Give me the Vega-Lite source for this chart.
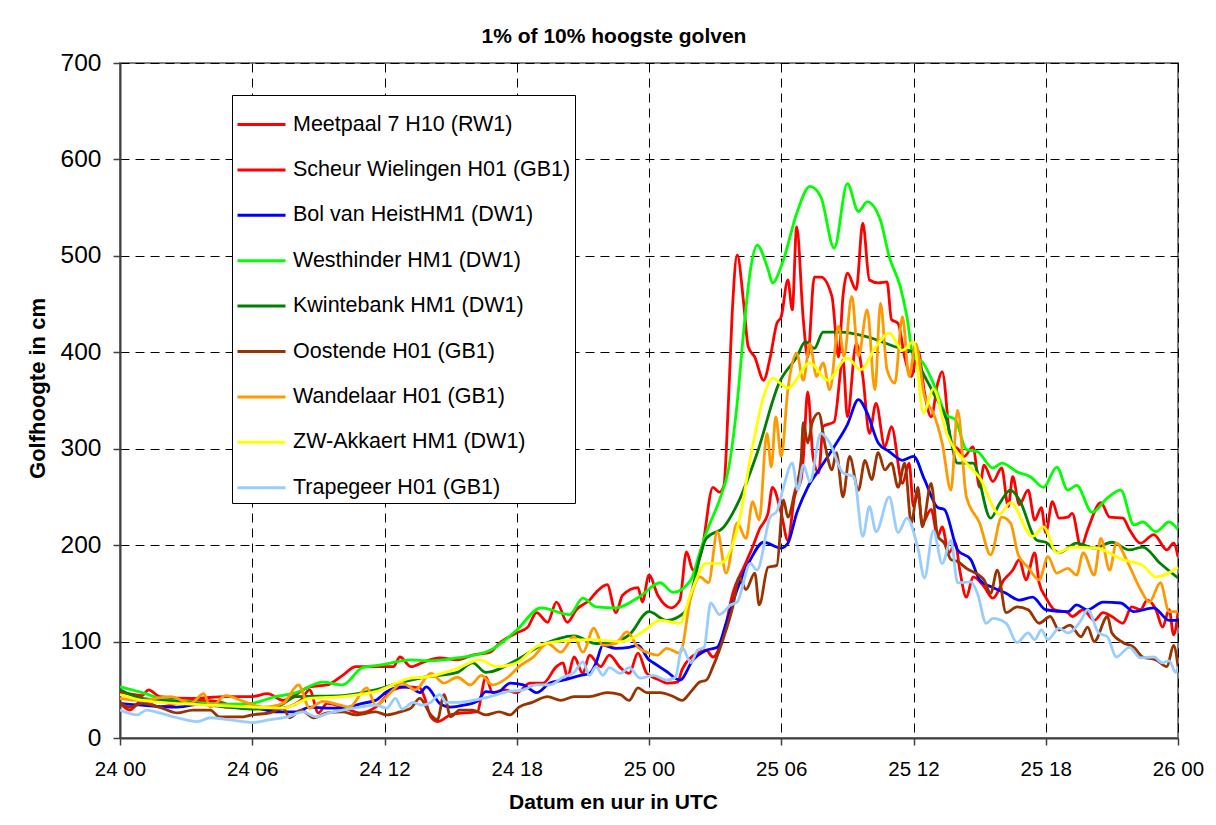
{
  "$schema": "https://vega.github.io/schema/vega-lite/v6.json",
  "width": 1058,
  "height": 675,
  "autosize": {"type": "none"},
  "padding": {"left": 120, "top": 63, "right": 38, "bottom": 87},
  "background": "white",
  "title": {"text": "1% of 10% hoogste golven", "font": "Liberation Sans", "fontSize": 21, "fontWeight": "bold", "color": "black", "anchor": "middle", "dx": -35, "offset": 3},
  "data": {"values": [
    {"s":"Meetpaal 7 H10 (RW1)","t":0,"v":48},{"s":"Meetpaal 7 H10 (RW1)","t":1,"v":44},{"s":"Meetpaal 7 H10 (RW1)","t":1.3,"v":50},{"s":"Meetpaal 7 H10 (RW1)","t":1.8,"v":43},{"s":"Meetpaal 7 H10 (RW1)","t":3.3,"v":41},{"s":"Meetpaal 7 H10 (RW1)","t":4.8,"v":43},{"s":"Meetpaal 7 H10 (RW1)","t":6,"v":43},{"s":"Meetpaal 7 H10 (RW1)","t":6.7,"v":46},{"s":"Meetpaal 7 H10 (RW1)","t":7.4,"v":39},{"s":"Meetpaal 7 H10 (RW1)","t":8.6,"v":53},{"s":"Meetpaal 7 H10 (RW1)","t":9.4,"v":55},{"s":"Meetpaal 7 H10 (RW1)","t":10.1,"v":65},{"s":"Meetpaal 7 H10 (RW1)","t":10.7,"v":74},{"s":"Meetpaal 7 H10 (RW1)","t":11.6,"v":74},{"s":"Meetpaal 7 H10 (RW1)","t":12.4,"v":74},{"s":"Meetpaal 7 H10 (RW1)","t":12.7,"v":84},{"s":"Meetpaal 7 H10 (RW1)","t":13.2,"v":74},{"s":"Meetpaal 7 H10 (RW1)","t":13.8,"v":79},{"s":"Meetpaal 7 H10 (RW1)","t":14.5,"v":83},{"s":"Meetpaal 7 H10 (RW1)","t":15.3,"v":81},{"s":"Meetpaal 7 H10 (RW1)","t":16,"v":86},{"s":"Meetpaal 7 H10 (RW1)","t":16.8,"v":89},{"s":"Meetpaal 7 H10 (RW1)","t":17.2,"v":98},{"s":"Meetpaal 7 H10 (RW1)","t":18,"v":109},{"s":"Meetpaal 7 H10 (RW1)","t":18.5,"v":115},{"s":"Meetpaal 7 H10 (RW1)","t":18.9,"v":130},{"s":"Meetpaal 7 H10 (RW1)","t":19.4,"v":120},{"s":"Meetpaal 7 H10 (RW1)","t":19.8,"v":141},{"s":"Meetpaal 7 H10 (RW1)","t":20.3,"v":120},{"s":"Meetpaal 7 H10 (RW1)","t":20.7,"v":133},{"s":"Meetpaal 7 H10 (RW1)","t":21.3,"v":143},{"s":"Meetpaal 7 H10 (RW1)","t":21.6,"v":151},{"s":"Meetpaal 7 H10 (RW1)","t":22.1,"v":159},{"s":"Meetpaal 7 H10 (RW1)","t":22.5,"v":130},{"s":"Meetpaal 7 H10 (RW1)","t":22.8,"v":148},{"s":"Meetpaal 7 H10 (RW1)","t":23.5,"v":156},{"s":"Meetpaal 7 H10 (RW1)","t":23.7,"v":141},{"s":"Meetpaal 7 H10 (RW1)","t":24,"v":169},{"s":"Meetpaal 7 H10 (RW1)","t":24.4,"v":148},{"s":"Meetpaal 7 H10 (RW1)","t":25,"v":135},{"s":"Meetpaal 7 H10 (RW1)","t":25.4,"v":143},{"s":"Meetpaal 7 H10 (RW1)","t":25.7,"v":193},{"s":"Meetpaal 7 H10 (RW1)","t":26,"v":174},{"s":"Meetpaal 7 H10 (RW1)","t":26.4,"v":195},{"s":"Meetpaal 7 H10 (RW1)","t":26.9,"v":260},{"s":"Meetpaal 7 H10 (RW1)","t":27.2,"v":255},{"s":"Meetpaal 7 H10 (RW1)","t":27.4,"v":262},{"s":"Meetpaal 7 H10 (RW1)","t":27.6,"v":347},{"s":"Meetpaal 7 H10 (RW1)","t":27.8,"v":451},{"s":"Meetpaal 7 H10 (RW1)","t":28,"v":501},{"s":"Meetpaal 7 H10 (RW1)","t":28.3,"v":450},{"s":"Meetpaal 7 H10 (RW1)","t":28.5,"v":406},{"s":"Meetpaal 7 H10 (RW1)","t":28.8,"v":395},{"s":"Meetpaal 7 H10 (RW1)","t":29.2,"v":371},{"s":"Meetpaal 7 H10 (RW1)","t":29.5,"v":395},{"s":"Meetpaal 7 H10 (RW1)","t":29.8,"v":430},{"s":"Meetpaal 7 H10 (RW1)","t":30,"v":437},{"s":"Meetpaal 7 H10 (RW1)","t":30.3,"v":475},{"s":"Meetpaal 7 H10 (RW1)","t":30.5,"v":444},{"s":"Meetpaal 7 H10 (RW1)","t":30.7,"v":530},{"s":"Meetpaal 7 H10 (RW1)","t":31,"v":434},{"s":"Meetpaal 7 H10 (RW1)","t":31.2,"v":395},{"s":"Meetpaal 7 H10 (RW1)","t":31.5,"v":478},{"s":"Meetpaal 7 H10 (RW1)","t":31.8,"v":478},{"s":"Meetpaal 7 H10 (RW1)","t":32.3,"v":458},{"s":"Meetpaal 7 H10 (RW1)","t":32.6,"v":395},{"s":"Meetpaal 7 H10 (RW1)","t":32.8,"v":458},{"s":"Meetpaal 7 H10 (RW1)","t":33,"v":482},{"s":"Meetpaal 7 H10 (RW1)","t":33.4,"v":465},{"s":"Meetpaal 7 H10 (RW1)","t":33.7,"v":534},{"s":"Meetpaal 7 H10 (RW1)","t":34,"v":475},{"s":"Meetpaal 7 H10 (RW1)","t":34.4,"v":472},{"s":"Meetpaal 7 H10 (RW1)","t":34.8,"v":473},{"s":"Meetpaal 7 H10 (RW1)","t":35,"v":434},{"s":"Meetpaal 7 H10 (RW1)","t":35.3,"v":430},{"s":"Meetpaal 7 H10 (RW1)","t":35.6,"v":395},{"s":"Meetpaal 7 H10 (RW1)","t":35.9,"v":375},{"s":"Meetpaal 7 H10 (RW1)","t":36.2,"v":402},{"s":"Meetpaal 7 H10 (RW1)","t":36.5,"v":358},{"s":"Meetpaal 7 H10 (RW1)","t":36.8,"v":333},{"s":"Meetpaal 7 H10 (RW1)","t":37.1,"v":368},{"s":"Meetpaal 7 H10 (RW1)","t":37.3,"v":380},{"s":"Meetpaal 7 H10 (RW1)","t":37.7,"v":306},{"s":"Meetpaal 7 H10 (RW1)","t":38,"v":300},{"s":"Meetpaal 7 H10 (RW1)","t":38.3,"v":292},{"s":"Meetpaal 7 H10 (RW1)","t":38.7,"v":302},{"s":"Meetpaal 7 H10 (RW1)","t":39,"v":260},{"s":"Meetpaal 7 H10 (RW1)","t":39.2,"v":283},{"s":"Meetpaal 7 H10 (RW1)","t":39.6,"v":266},{"s":"Meetpaal 7 H10 (RW1)","t":40,"v":280},{"s":"Meetpaal 7 H10 (RW1)","t":40.3,"v":240},{"s":"Meetpaal 7 H10 (RW1)","t":40.5,"v":271},{"s":"Meetpaal 7 H10 (RW1)","t":40.8,"v":242},{"s":"Meetpaal 7 H10 (RW1)","t":41.2,"v":257},{"s":"Meetpaal 7 H10 (RW1)","t":41.5,"v":226},{"s":"Meetpaal 7 H10 (RW1)","t":41.8,"v":239},{"s":"Meetpaal 7 H10 (RW1)","t":42,"v":213},{"s":"Meetpaal 7 H10 (RW1)","t":42.3,"v":245},{"s":"Meetpaal 7 H10 (RW1)","t":42.6,"v":228},{"s":"Meetpaal 7 H10 (RW1)","t":43,"v":229},{"s":"Meetpaal 7 H10 (RW1)","t":43.2,"v":233},{"s":"Meetpaal 7 H10 (RW1)","t":43.6,"v":198},{"s":"Meetpaal 7 H10 (RW1)","t":43.9,"v":216},{"s":"Meetpaal 7 H10 (RW1)","t":44.5,"v":244},{"s":"Meetpaal 7 H10 (RW1)","t":44.9,"v":229},{"s":"Meetpaal 7 H10 (RW1)","t":45.5,"v":228},{"s":"Meetpaal 7 H10 (RW1)","t":45.8,"v":216},{"s":"Meetpaal 7 H10 (RW1)","t":46.3,"v":202},{"s":"Meetpaal 7 H10 (RW1)","t":46.9,"v":211},{"s":"Meetpaal 7 H10 (RW1)","t":47.5,"v":195},{"s":"Meetpaal 7 H10 (RW1)","t":47.8,"v":202},{"s":"Meetpaal 7 H10 (RW1)","t":48,"v":188},

    {"s":"Scheur Wielingen H01 (GB1)","t":0,"v":36},{"s":"Scheur Wielingen H01 (GB1)","t":0.45,"v":29},{"s":"Scheur Wielingen H01 (GB1)","t":1,"v":39},{"s":"Scheur Wielingen H01 (GB1)","t":1.8,"v":32},{"s":"Scheur Wielingen H01 (GB1)","t":2.6,"v":36},{"s":"Scheur Wielingen H01 (GB1)","t":3.3,"v":39},{"s":"Scheur Wielingen H01 (GB1)","t":4.4,"v":38},{"s":"Scheur Wielingen H01 (GB1)","t":5.3,"v":32},{"s":"Scheur Wielingen H01 (GB1)","t":6,"v":31},{"s":"Scheur Wielingen H01 (GB1)","t":6.9,"v":29},{"s":"Scheur Wielingen H01 (GB1)","t":7.6,"v":32},{"s":"Scheur Wielingen H01 (GB1)","t":8.2,"v":39},{"s":"Scheur Wielingen H01 (GB1)","t":8.6,"v":50},{"s":"Scheur Wielingen H01 (GB1)","t":9,"v":26},{"s":"Scheur Wielingen H01 (GB1)","t":9.4,"v":36},{"s":"Scheur Wielingen H01 (GB1)","t":10.1,"v":32},{"s":"Scheur Wielingen H01 (GB1)","t":10.9,"v":26},{"s":"Scheur Wielingen H01 (GB1)","t":11.6,"v":32},{"s":"Scheur Wielingen H01 (GB1)","t":12.4,"v":50},{"s":"Scheur Wielingen H01 (GB1)","t":13,"v":53},{"s":"Scheur Wielingen H01 (GB1)","t":13.6,"v":52},{"s":"Scheur Wielingen H01 (GB1)","t":13.8,"v":43},{"s":"Scheur Wielingen H01 (GB1)","t":14.1,"v":22},{"s":"Scheur Wielingen H01 (GB1)","t":14.4,"v":17},{"s":"Scheur Wielingen H01 (GB1)","t":15,"v":24},{"s":"Scheur Wielingen H01 (GB1)","t":15.6,"v":26},{"s":"Scheur Wielingen H01 (GB1)","t":16.2,"v":27},{"s":"Scheur Wielingen H01 (GB1)","t":16.6,"v":63},{"s":"Scheur Wielingen H01 (GB1)","t":16.9,"v":47},{"s":"Scheur Wielingen H01 (GB1)","t":17.4,"v":50},{"s":"Scheur Wielingen H01 (GB1)","t":18,"v":47},{"s":"Scheur Wielingen H01 (GB1)","t":18.6,"v":57},{"s":"Scheur Wielingen H01 (GB1)","t":19.2,"v":57},{"s":"Scheur Wielingen H01 (GB1)","t":19.8,"v":74},{"s":"Scheur Wielingen H01 (GB1)","t":20.1,"v":78},{"s":"Scheur Wielingen H01 (GB1)","t":20.3,"v":63},{"s":"Scheur Wielingen H01 (GB1)","t":20.6,"v":84},{"s":"Scheur Wielingen H01 (GB1)","t":21,"v":67},{"s":"Scheur Wielingen H01 (GB1)","t":21.3,"v":86},{"s":"Scheur Wielingen H01 (GB1)","t":21.8,"v":74},{"s":"Scheur Wielingen H01 (GB1)","t":22.2,"v":86},{"s":"Scheur Wielingen H01 (GB1)","t":22.7,"v":73},{"s":"Scheur Wielingen H01 (GB1)","t":23.1,"v":67},{"s":"Scheur Wielingen H01 (GB1)","t":23.5,"v":88},{"s":"Scheur Wielingen H01 (GB1)","t":23.9,"v":67},{"s":"Scheur Wielingen H01 (GB1)","t":24.5,"v":60},{"s":"Scheur Wielingen H01 (GB1)","t":24.8,"v":57},{"s":"Scheur Wielingen H01 (GB1)","t":25.3,"v":58},{"s":"Scheur Wielingen H01 (GB1)","t":25.5,"v":71},{"s":"Scheur Wielingen H01 (GB1)","t":26.2,"v":88},{"s":"Scheur Wielingen H01 (GB1)","t":26.6,"v":91},{"s":"Scheur Wielingen H01 (GB1)","t":26.9,"v":84},{"s":"Scheur Wielingen H01 (GB1)","t":27.4,"v":109},{"s":"Scheur Wielingen H01 (GB1)","t":27.8,"v":150},{"s":"Scheur Wielingen H01 (GB1)","t":28.3,"v":177},{"s":"Scheur Wielingen H01 (GB1)","t":28.7,"v":198},{"s":"Scheur Wielingen H01 (GB1)","t":29,"v":216},{"s":"Scheur Wielingen H01 (GB1)","t":29.4,"v":233},{"s":"Scheur Wielingen H01 (GB1)","t":29.6,"v":260},{"s":"Scheur Wielingen H01 (GB1)","t":30,"v":233},{"s":"Scheur Wielingen H01 (GB1)","t":30.3,"v":205},{"s":"Scheur Wielingen H01 (GB1)","t":30.6,"v":250},{"s":"Scheur Wielingen H01 (GB1)","t":30.9,"v":268},{"s":"Scheur Wielingen H01 (GB1)","t":31,"v":290},{"s":"Scheur Wielingen H01 (GB1)","t":31.2,"v":359},{"s":"Scheur Wielingen H01 (GB1)","t":31.45,"v":290},{"s":"Scheur Wielingen H01 (GB1)","t":31.7,"v":275},{"s":"Scheur Wielingen H01 (GB1)","t":31.9,"v":323},{"s":"Scheur Wielingen H01 (GB1)","t":32.4,"v":328},{"s":"Scheur Wielingen H01 (GB1)","t":32.8,"v":392},{"s":"Scheur Wielingen H01 (GB1)","t":33,"v":333},{"s":"Scheur Wielingen H01 (GB1)","t":33.4,"v":409},{"s":"Scheur Wielingen H01 (GB1)","t":33.7,"v":375},{"s":"Scheur Wielingen H01 (GB1)","t":34,"v":316},{"s":"Scheur Wielingen H01 (GB1)","t":34.3,"v":347},{"s":"Scheur Wielingen H01 (GB1)","t":34.7,"v":302},{"s":"Scheur Wielingen H01 (GB1)","t":35,"v":323},{"s":"Scheur Wielingen H01 (GB1)","t":35.5,"v":264},{"s":"Scheur Wielingen H01 (GB1)","t":35.8,"v":285},{"s":"Scheur Wielingen H01 (GB1)","t":36,"v":240},{"s":"Scheur Wielingen H01 (GB1)","t":36.2,"v":254},{"s":"Scheur Wielingen H01 (GB1)","t":36.4,"v":223},{"s":"Scheur Wielingen H01 (GB1)","t":36.8,"v":237},{"s":"Scheur Wielingen H01 (GB1)","t":37.1,"v":209},{"s":"Scheur Wielingen H01 (GB1)","t":37.3,"v":219},{"s":"Scheur Wielingen H01 (GB1)","t":37.6,"v":192},{"s":"Scheur Wielingen H01 (GB1)","t":37.9,"v":202},{"s":"Scheur Wielingen H01 (GB1)","t":38.1,"v":174},{"s":"Scheur Wielingen H01 (GB1)","t":38.4,"v":146},{"s":"Scheur Wielingen H01 (GB1)","t":38.7,"v":167},{"s":"Scheur Wielingen H01 (GB1)","t":39.2,"v":157},{"s":"Scheur Wielingen H01 (GB1)","t":39.6,"v":145},{"s":"Scheur Wielingen H01 (GB1)","t":40.1,"v":164},{"s":"Scheur Wielingen H01 (GB1)","t":40.5,"v":174},{"s":"Scheur Wielingen H01 (GB1)","t":40.8,"v":185},{"s":"Scheur Wielingen H01 (GB1)","t":41.1,"v":164},{"s":"Scheur Wielingen H01 (GB1)","t":41.5,"v":192},{"s":"Scheur Wielingen H01 (GB1)","t":41.7,"v":161},{"s":"Scheur Wielingen H01 (GB1)","t":42,"v":146},{"s":"Scheur Wielingen H01 (GB1)","t":42.4,"v":133},{"s":"Scheur Wielingen H01 (GB1)","t":43,"v":130},{"s":"Scheur Wielingen H01 (GB1)","t":43.2,"v":126},{"s":"Scheur Wielingen H01 (GB1)","t":43.7,"v":133},{"s":"Scheur Wielingen H01 (GB1)","t":44.2,"v":122},{"s":"Scheur Wielingen H01 (GB1)","t":44.6,"v":130},{"s":"Scheur Wielingen H01 (GB1)","t":45,"v":126},{"s":"Scheur Wielingen H01 (GB1)","t":45.5,"v":119},{"s":"Scheur Wielingen H01 (GB1)","t":45.9,"v":136},{"s":"Scheur Wielingen H01 (GB1)","t":46.3,"v":133},{"s":"Scheur Wielingen H01 (GB1)","t":46.6,"v":143},{"s":"Scheur Wielingen H01 (GB1)","t":47,"v":133},{"s":"Scheur Wielingen H01 (GB1)","t":47.3,"v":115},{"s":"Scheur Wielingen H01 (GB1)","t":47.6,"v":133},{"s":"Scheur Wielingen H01 (GB1)","t":47.8,"v":107},{"s":"Scheur Wielingen H01 (GB1)","t":48,"v":130},

    {"s":"Bol van HeistHM1 (DW1)","t":0,"v":36},{"s":"Bol van HeistHM1 (DW1)","t":1,"v":34},{"s":"Bol van HeistHM1 (DW1)","t":2.6,"v":32},{"s":"Bol van HeistHM1 (DW1)","t":3.9,"v":36},{"s":"Bol van HeistHM1 (DW1)","t":4.8,"v":32},{"s":"Bol van HeistHM1 (DW1)","t":6,"v":32},{"s":"Bol van HeistHM1 (DW1)","t":7.1,"v":27},{"s":"Bol van HeistHM1 (DW1)","t":8,"v":27},{"s":"Bol van HeistHM1 (DW1)","t":8.6,"v":32},{"s":"Bol van HeistHM1 (DW1)","t":9.4,"v":31},{"s":"Bol van HeistHM1 (DW1)","t":10.1,"v":31},{"s":"Bol van HeistHM1 (DW1)","t":11,"v":36},{"s":"Bol van HeistHM1 (DW1)","t":11.6,"v":39},{"s":"Bol van HeistHM1 (DW1)","t":12.1,"v":48},{"s":"Bol van HeistHM1 (DW1)","t":12.8,"v":53},{"s":"Bol van HeistHM1 (DW1)","t":13.2,"v":52},{"s":"Bol van HeistHM1 (DW1)","t":13.6,"v":47},{"s":"Bol van HeistHM1 (DW1)","t":13.9,"v":53},{"s":"Bol van HeistHM1 (DW1)","t":14.5,"v":36},{"s":"Bol van HeistHM1 (DW1)","t":15,"v":32},{"s":"Bol van HeistHM1 (DW1)","t":15.6,"v":34},{"s":"Bol van HeistHM1 (DW1)","t":16.2,"v":38},{"s":"Bol van HeistHM1 (DW1)","t":16.6,"v":48},{"s":"Bol van HeistHM1 (DW1)","t":17.1,"v":47},{"s":"Bol van HeistHM1 (DW1)","t":17.7,"v":57},{"s":"Bol van HeistHM1 (DW1)","t":18.3,"v":55},{"s":"Bol van HeistHM1 (DW1)","t":18.9,"v":47},{"s":"Bol van HeistHM1 (DW1)","t":19.5,"v":57},{"s":"Bol van HeistHM1 (DW1)","t":20.1,"v":60},{"s":"Bol van HeistHM1 (DW1)","t":20.9,"v":65},{"s":"Bol van HeistHM1 (DW1)","t":21.3,"v":67},{"s":"Bol van HeistHM1 (DW1)","t":21.6,"v":78},{"s":"Bol van HeistHM1 (DW1)","t":21.9,"v":96},{"s":"Bol van HeistHM1 (DW1)","t":22.5,"v":93},{"s":"Bol van HeistHM1 (DW1)","t":23.1,"v":94},{"s":"Bol van HeistHM1 (DW1)","t":23.5,"v":96},{"s":"Bol van HeistHM1 (DW1)","t":24,"v":81},{"s":"Bol van HeistHM1 (DW1)","t":24.2,"v":78},{"s":"Bol van HeistHM1 (DW1)","t":24.8,"v":69},{"s":"Bol van HeistHM1 (DW1)","t":25.4,"v":60},{"s":"Bol van HeistHM1 (DW1)","t":26,"v":81},{"s":"Bol van HeistHM1 (DW1)","t":26.6,"v":91},{"s":"Bol van HeistHM1 (DW1)","t":27.1,"v":94},{"s":"Bol van HeistHM1 (DW1)","t":27.5,"v":119},{"s":"Bol van HeistHM1 (DW1)","t":28,"v":154},{"s":"Bol van HeistHM1 (DW1)","t":28.6,"v":185},{"s":"Bol van HeistHM1 (DW1)","t":29.2,"v":203},{"s":"Bol van HeistHM1 (DW1)","t":30,"v":197},{"s":"Bol van HeistHM1 (DW1)","t":30.3,"v":202},{"s":"Bol van HeistHM1 (DW1)","t":30.7,"v":233},{"s":"Bol van HeistHM1 (DW1)","t":31.2,"v":260},{"s":"Bol van HeistHM1 (DW1)","t":31.8,"v":281},{"s":"Bol van HeistHM1 (DW1)","t":32.4,"v":302},{"s":"Bol van HeistHM1 (DW1)","t":33,"v":325},{"s":"Bol van HeistHM1 (DW1)","t":33.5,"v":351},{"s":"Bol van HeistHM1 (DW1)","t":33.9,"v":337},{"s":"Bol van HeistHM1 (DW1)","t":34.4,"v":306},{"s":"Bol van HeistHM1 (DW1)","t":34.9,"v":297},{"s":"Bol van HeistHM1 (DW1)","t":35.5,"v":288},{"s":"Bol van HeistHM1 (DW1)","t":36,"v":292},{"s":"Bol van HeistHM1 (DW1)","t":36.5,"v":268},{"s":"Bol van HeistHM1 (DW1)","t":37.1,"v":239},{"s":"Bol van HeistHM1 (DW1)","t":37.4,"v":237},{"s":"Bol van HeistHM1 (DW1)","t":38,"v":195},{"s":"Bol van HeistHM1 (DW1)","t":38.6,"v":185},{"s":"Bol van HeistHM1 (DW1)","t":39,"v":164},{"s":"Bol van HeistHM1 (DW1)","t":39.5,"v":157},{"s":"Bol van HeistHM1 (DW1)","t":40.2,"v":150},{"s":"Bol van HeistHM1 (DW1)","t":40.8,"v":143},{"s":"Bol van HeistHM1 (DW1)","t":41.4,"v":146},{"s":"Bol van HeistHM1 (DW1)","t":42,"v":133},{"s":"Bol van HeistHM1 (DW1)","t":43,"v":131},{"s":"Bol van HeistHM1 (DW1)","t":43.4,"v":138},{"s":"Bol van HeistHM1 (DW1)","t":43.9,"v":133},{"s":"Bol van HeistHM1 (DW1)","t":44.6,"v":141},{"s":"Bol van HeistHM1 (DW1)","t":45.4,"v":140},{"s":"Bol van HeistHM1 (DW1)","t":46,"v":131},{"s":"Bol van HeistHM1 (DW1)","t":46.9,"v":135},{"s":"Bol van HeistHM1 (DW1)","t":47.6,"v":122},{"s":"Bol van HeistHM1 (DW1)","t":48,"v":122},

    {"s":"Westhinder HM1 (DW1)","t":0,"v":53},{"s":"Westhinder HM1 (DW1)","t":1,"v":47},{"s":"Westhinder HM1 (DW1)","t":2,"v":40},{"s":"Westhinder HM1 (DW1)","t":3,"v":38},{"s":"Westhinder HM1 (DW1)","t":4,"v":36},{"s":"Westhinder HM1 (DW1)","t":5,"v":35},{"s":"Westhinder HM1 (DW1)","t":6,"v":36},{"s":"Westhinder HM1 (DW1)","t":6.9,"v":42},{"s":"Westhinder HM1 (DW1)","t":8,"v":47},{"s":"Westhinder HM1 (DW1)","t":9.2,"v":58},{"s":"Westhinder HM1 (DW1)","t":10.1,"v":55},{"s":"Westhinder HM1 (DW1)","t":11,"v":73},{"s":"Westhinder HM1 (DW1)","t":11.9,"v":76},{"s":"Westhinder HM1 (DW1)","t":13.2,"v":81},{"s":"Westhinder HM1 (DW1)","t":14,"v":80},{"s":"Westhinder HM1 (DW1)","t":15.3,"v":83},{"s":"Westhinder HM1 (DW1)","t":16.8,"v":91},{"s":"Westhinder HM1 (DW1)","t":18,"v":112},{"s":"Westhinder HM1 (DW1)","t":19.1,"v":135},{"s":"Westhinder HM1 (DW1)","t":20.4,"v":128},{"s":"Westhinder HM1 (DW1)","t":21,"v":145},{"s":"Westhinder HM1 (DW1)","t":21.6,"v":136},{"s":"Westhinder HM1 (DW1)","t":22.5,"v":135},{"s":"Westhinder HM1 (DW1)","t":23.6,"v":147},{"s":"Westhinder HM1 (DW1)","t":24.5,"v":161},{"s":"Westhinder HM1 (DW1)","t":25.1,"v":151},{"s":"Westhinder HM1 (DW1)","t":25.9,"v":164},{"s":"Westhinder HM1 (DW1)","t":26.3,"v":192},{"s":"Westhinder HM1 (DW1)","t":26.6,"v":213},{"s":"Westhinder HM1 (DW1)","t":27.2,"v":247},{"s":"Westhinder HM1 (DW1)","t":27.6,"v":278},{"s":"Westhinder HM1 (DW1)","t":28,"v":347},{"s":"Westhinder HM1 (DW1)","t":28.3,"v":423},{"s":"Westhinder HM1 (DW1)","t":28.6,"v":485},{"s":"Westhinder HM1 (DW1)","t":28.9,"v":511},{"s":"Westhinder HM1 (DW1)","t":29.4,"v":486},{"s":"Westhinder HM1 (DW1)","t":29.6,"v":472},{"s":"Westhinder HM1 (DW1)","t":30.1,"v":496},{"s":"Westhinder HM1 (DW1)","t":30.7,"v":544},{"s":"Westhinder HM1 (DW1)","t":31.3,"v":572},{"s":"Westhinder HM1 (DW1)","t":31.8,"v":561},{"s":"Westhinder HM1 (DW1)","t":32.4,"v":508},{"s":"Westhinder HM1 (DW1)","t":33,"v":575},{"s":"Westhinder HM1 (DW1)","t":33.5,"v":546},{"s":"Westhinder HM1 (DW1)","t":33.9,"v":556},{"s":"Westhinder HM1 (DW1)","t":34.5,"v":537},{"s":"Westhinder HM1 (DW1)","t":34.9,"v":499},{"s":"Westhinder HM1 (DW1)","t":35.4,"v":468},{"s":"Westhinder HM1 (DW1)","t":35.7,"v":437},{"s":"Westhinder HM1 (DW1)","t":36,"v":395},{"s":"Westhinder HM1 (DW1)","t":36.4,"v":390},{"s":"Westhinder HM1 (DW1)","t":36.9,"v":368},{"s":"Westhinder HM1 (DW1)","t":37.5,"v":335},{"s":"Westhinder HM1 (DW1)","t":37.9,"v":330},{"s":"Westhinder HM1 (DW1)","t":38.4,"v":299},{"s":"Westhinder HM1 (DW1)","t":38.9,"v":297},{"s":"Westhinder HM1 (DW1)","t":39.6,"v":280},{"s":"Westhinder HM1 (DW1)","t":40,"v":285},{"s":"Westhinder HM1 (DW1)","t":40.7,"v":276},{"s":"Westhinder HM1 (DW1)","t":41.3,"v":271},{"s":"Westhinder HM1 (DW1)","t":41.9,"v":260},{"s":"Westhinder HM1 (DW1)","t":42.5,"v":281},{"s":"Westhinder HM1 (DW1)","t":43,"v":257},{"s":"Westhinder HM1 (DW1)","t":43.4,"v":262},{"s":"Westhinder HM1 (DW1)","t":44.1,"v":234},{"s":"Westhinder HM1 (DW1)","t":44.8,"v":249},{"s":"Westhinder HM1 (DW1)","t":45.4,"v":257},{"s":"Westhinder HM1 (DW1)","t":46,"v":221},{"s":"Westhinder HM1 (DW1)","t":46.4,"v":224},{"s":"Westhinder HM1 (DW1)","t":47,"v":214},{"s":"Westhinder HM1 (DW1)","t":47.6,"v":224},{"s":"Westhinder HM1 (DW1)","t":48,"v":216},

    {"s":"Kwintebank HM1 (DW1)","t":0,"v":50},{"s":"Kwintebank HM1 (DW1)","t":1,"v":41},{"s":"Kwintebank HM1 (DW1)","t":2.6,"v":38},{"s":"Kwintebank HM1 (DW1)","t":4.5,"v":33},{"s":"Kwintebank HM1 (DW1)","t":6,"v":30},{"s":"Kwintebank HM1 (DW1)","t":7.1,"v":32},{"s":"Kwintebank HM1 (DW1)","t":8,"v":43},{"s":"Kwintebank HM1 (DW1)","t":10.1,"v":44},{"s":"Kwintebank HM1 (DW1)","t":11.6,"v":50},{"s":"Kwintebank HM1 (DW1)","t":12.8,"v":58},{"s":"Kwintebank HM1 (DW1)","t":13.8,"v":63},{"s":"Kwintebank HM1 (DW1)","t":15.3,"v":68},{"s":"Kwintebank HM1 (DW1)","t":16,"v":78},{"s":"Kwintebank HM1 (DW1)","t":16.6,"v":68},{"s":"Kwintebank HM1 (DW1)","t":18,"v":81},{"s":"Kwintebank HM1 (DW1)","t":19.1,"v":96},{"s":"Kwintebank HM1 (DW1)","t":20.6,"v":106},{"s":"Kwintebank HM1 (DW1)","t":21.6,"v":98},{"s":"Kwintebank HM1 (DW1)","t":22.5,"v":100},{"s":"Kwintebank HM1 (DW1)","t":23.1,"v":107},{"s":"Kwintebank HM1 (DW1)","t":24,"v":131},{"s":"Kwintebank HM1 (DW1)","t":24.8,"v":122},{"s":"Kwintebank HM1 (DW1)","t":25.6,"v":130},{"s":"Kwintebank HM1 (DW1)","t":26.6,"v":207},{"s":"Kwintebank HM1 (DW1)","t":27.4,"v":219},{"s":"Kwintebank HM1 (DW1)","t":28.1,"v":247},{"s":"Kwintebank HM1 (DW1)","t":28.9,"v":295},{"s":"Kwintebank HM1 (DW1)","t":29.9,"v":368},{"s":"Kwintebank HM1 (DW1)","t":30.7,"v":395},{"s":"Kwintebank HM1 (DW1)","t":31.1,"v":411},{"s":"Kwintebank HM1 (DW1)","t":31.5,"v":404},{"s":"Kwintebank HM1 (DW1)","t":31.9,"v":421},{"s":"Kwintebank HM1 (DW1)","t":32.7,"v":421},{"s":"Kwintebank HM1 (DW1)","t":33.9,"v":416},{"s":"Kwintebank HM1 (DW1)","t":35.4,"v":404},{"s":"Kwintebank HM1 (DW1)","t":36,"v":400},{"s":"Kwintebank HM1 (DW1)","t":36.4,"v":380},{"s":"Kwintebank HM1 (DW1)","t":36.9,"v":358},{"s":"Kwintebank HM1 (DW1)","t":37.5,"v":330},{"s":"Kwintebank HM1 (DW1)","t":38,"v":285},{"s":"Kwintebank HM1 (DW1)","t":38.7,"v":285},{"s":"Kwintebank HM1 (DW1)","t":39.5,"v":228},{"s":"Kwintebank HM1 (DW1)","t":39.9,"v":243},{"s":"Kwintebank HM1 (DW1)","t":40.4,"v":257},{"s":"Kwintebank HM1 (DW1)","t":40.8,"v":247},{"s":"Kwintebank HM1 (DW1)","t":41.6,"v":205},{"s":"Kwintebank HM1 (DW1)","t":42,"v":203},{"s":"Kwintebank HM1 (DW1)","t":42.6,"v":192},{"s":"Kwintebank HM1 (DW1)","t":43.4,"v":202},{"s":"Kwintebank HM1 (DW1)","t":44.2,"v":197},{"s":"Kwintebank HM1 (DW1)","t":45,"v":203},{"s":"Kwintebank HM1 (DW1)","t":45.8,"v":195},{"s":"Kwintebank HM1 (DW1)","t":46.4,"v":198},{"s":"Kwintebank HM1 (DW1)","t":47.2,"v":181},{"s":"Kwintebank HM1 (DW1)","t":48,"v":166},

    {"s":"Oostende H01 (GB1)","t":0,"v":36},{"s":"Oostende H01 (GB1)","t":0.45,"v":32},{"s":"Oostende H01 (GB1)","t":1,"v":36},{"s":"Oostende H01 (GB1)","t":1.8,"v":32},{"s":"Oostende H01 (GB1)","t":2.6,"v":26},{"s":"Oostende H01 (GB1)","t":3.3,"v":29},{"s":"Oostende H01 (GB1)","t":4.1,"v":29},{"s":"Oostende H01 (GB1)","t":4.5,"v":22},{"s":"Oostende H01 (GB1)","t":5.6,"v":22},{"s":"Oostende H01 (GB1)","t":6,"v":24},{"s":"Oostende H01 (GB1)","t":6.8,"v":26},{"s":"Oostende H01 (GB1)","t":7.4,"v":31},{"s":"Oostende H01 (GB1)","t":7.7,"v":21},{"s":"Oostende H01 (GB1)","t":8.2,"v":29},{"s":"Oostende H01 (GB1)","t":8.8,"v":21},{"s":"Oostende H01 (GB1)","t":9.4,"v":26},{"s":"Oostende H01 (GB1)","t":10.1,"v":27},{"s":"Oostende H01 (GB1)","t":10.7,"v":24},{"s":"Oostende H01 (GB1)","t":11.6,"v":27},{"s":"Oostende H01 (GB1)","t":12.1,"v":24},{"s":"Oostende H01 (GB1)","t":12.7,"v":27},{"s":"Oostende H01 (GB1)","t":13.2,"v":31},{"s":"Oostende H01 (GB1)","t":13.6,"v":41},{"s":"Oostende H01 (GB1)","t":14.1,"v":24},{"s":"Oostende H01 (GB1)","t":14.4,"v":19},{"s":"Oostende H01 (GB1)","t":14.7,"v":45},{"s":"Oostende H01 (GB1)","t":15,"v":22},{"s":"Oostende H01 (GB1)","t":15.4,"v":29},{"s":"Oostende H01 (GB1)","t":16,"v":29},{"s":"Oostende H01 (GB1)","t":16.6,"v":24},{"s":"Oostende H01 (GB1)","t":17.2,"v":27},{"s":"Oostende H01 (GB1)","t":17.7,"v":24},{"s":"Oostende H01 (GB1)","t":18.1,"v":32},{"s":"Oostende H01 (GB1)","t":18.7,"v":37},{"s":"Oostende H01 (GB1)","t":19.4,"v":43},{"s":"Oostende H01 (GB1)","t":20,"v":39},{"s":"Oostende H01 (GB1)","t":20.6,"v":43},{"s":"Oostende H01 (GB1)","t":21.3,"v":43},{"s":"Oostende H01 (GB1)","t":22.1,"v":47},{"s":"Oostende H01 (GB1)","t":22.7,"v":45},{"s":"Oostende H01 (GB1)","t":23.1,"v":39},{"s":"Oostende H01 (GB1)","t":23.5,"v":52},{"s":"Oostende H01 (GB1)","t":23.9,"v":47},{"s":"Oostende H01 (GB1)","t":24.5,"v":47},{"s":"Oostende H01 (GB1)","t":25.1,"v":43},{"s":"Oostende H01 (GB1)","t":25.5,"v":39},{"s":"Oostende H01 (GB1)","t":25.9,"v":48},{"s":"Oostende H01 (GB1)","t":26.3,"v":58},{"s":"Oostende H01 (GB1)","t":26.6,"v":60},{"s":"Oostende H01 (GB1)","t":26.9,"v":74},{"s":"Oostende H01 (GB1)","t":27.4,"v":105},{"s":"Oostende H01 (GB1)","t":27.8,"v":136},{"s":"Oostende H01 (GB1)","t":28.1,"v":167},{"s":"Oostende H01 (GB1)","t":28.4,"v":154},{"s":"Oostende H01 (GB1)","t":28.8,"v":171},{"s":"Oostende H01 (GB1)","t":29,"v":138},{"s":"Oostende H01 (GB1)","t":29.4,"v":177},{"s":"Oostende H01 (GB1)","t":29.8,"v":179},{"s":"Oostende H01 (GB1)","t":30.1,"v":247},{"s":"Oostende H01 (GB1)","t":30.3,"v":229},{"s":"Oostende H01 (GB1)","t":30.6,"v":254},{"s":"Oostende H01 (GB1)","t":30.9,"v":288},{"s":"Oostende H01 (GB1)","t":31,"v":327},{"s":"Oostende H01 (GB1)","t":31.2,"v":306},{"s":"Oostende H01 (GB1)","t":31.4,"v":327},{"s":"Oostende H01 (GB1)","t":31.7,"v":337},{"s":"Oostende H01 (GB1)","t":32,"v":302},{"s":"Oostende H01 (GB1)","t":32.3,"v":278},{"s":"Oostende H01 (GB1)","t":32.5,"v":296},{"s":"Oostende H01 (GB1)","t":32.8,"v":250},{"s":"Oostende H01 (GB1)","t":33.1,"v":292},{"s":"Oostende H01 (GB1)","t":33.5,"v":257},{"s":"Oostende H01 (GB1)","t":33.8,"v":288},{"s":"Oostende H01 (GB1)","t":34.1,"v":268},{"s":"Oostende H01 (GB1)","t":34.4,"v":296},{"s":"Oostende H01 (GB1)","t":34.7,"v":278},{"s":"Oostende H01 (GB1)","t":35,"v":285},{"s":"Oostende H01 (GB1)","t":35.3,"v":260},{"s":"Oostende H01 (GB1)","t":35.6,"v":285},{"s":"Oostende H01 (GB1)","t":35.9,"v":223},{"s":"Oostende H01 (GB1)","t":36.2,"v":260},{"s":"Oostende H01 (GB1)","t":36.4,"v":219},{"s":"Oostende H01 (GB1)","t":36.8,"v":264},{"s":"Oostende H01 (GB1)","t":37.1,"v":209},{"s":"Oostende H01 (GB1)","t":37.4,"v":202},{"s":"Oostende H01 (GB1)","t":37.7,"v":185},{"s":"Oostende H01 (GB1)","t":38,"v":183},{"s":"Oostende H01 (GB1)","t":38.4,"v":176},{"s":"Oostende H01 (GB1)","t":39.2,"v":164},{"s":"Oostende H01 (GB1)","t":39.5,"v":150},{"s":"Oostende H01 (GB1)","t":39.8,"v":174},{"s":"Oostende H01 (GB1)","t":40.2,"v":130},{"s":"Oostende H01 (GB1)","t":40.7,"v":136},{"s":"Oostende H01 (GB1)","t":41.2,"v":133},{"s":"Oostende H01 (GB1)","t":41.7,"v":119},{"s":"Oostende H01 (GB1)","t":42.2,"v":126},{"s":"Oostende H01 (GB1)","t":42.6,"v":112},{"s":"Oostende H01 (GB1)","t":43.1,"v":117},{"s":"Oostende H01 (GB1)","t":43.6,"v":105},{"s":"Oostende H01 (GB1)","t":43.9,"v":115},{"s":"Oostende H01 (GB1)","t":44.2,"v":100},{"s":"Oostende H01 (GB1)","t":44.8,"v":126},{"s":"Oostende H01 (GB1)","t":45,"v":109},{"s":"Oostende H01 (GB1)","t":45.5,"v":99},{"s":"Oostende H01 (GB1)","t":46,"v":94},{"s":"Oostende H01 (GB1)","t":46.4,"v":84},{"s":"Oostende H01 (GB1)","t":47,"v":81},{"s":"Oostende H01 (GB1)","t":47.5,"v":74},{"s":"Oostende H01 (GB1)","t":47.8,"v":96},{"s":"Oostende H01 (GB1)","t":48,"v":74},

    {"s":"Wandelaar H01 (GB1)","t":0,"v":41},{"s":"Wandelaar H01 (GB1)","t":1,"v":39},{"s":"Wandelaar H01 (GB1)","t":2.3,"v":43},{"s":"Wandelaar H01 (GB1)","t":3.2,"v":36},{"s":"Wandelaar H01 (GB1)","t":3.8,"v":46},{"s":"Wandelaar H01 (GB1)","t":4.1,"v":32},{"s":"Wandelaar H01 (GB1)","t":4.8,"v":44},{"s":"Wandelaar H01 (GB1)","t":5.6,"v":38},{"s":"Wandelaar H01 (GB1)","t":6.5,"v":32},{"s":"Wandelaar H01 (GB1)","t":7.4,"v":36},{"s":"Wandelaar H01 (GB1)","t":8.1,"v":55},{"s":"Wandelaar H01 (GB1)","t":8.6,"v":31},{"s":"Wandelaar H01 (GB1)","t":9.2,"v":38},{"s":"Wandelaar H01 (GB1)","t":10,"v":34},{"s":"Wandelaar H01 (GB1)","t":10.4,"v":32},{"s":"Wandelaar H01 (GB1)","t":11.2,"v":52},{"s":"Wandelaar H01 (GB1)","t":11.6,"v":34},{"s":"Wandelaar H01 (GB1)","t":12.4,"v":50},{"s":"Wandelaar H01 (GB1)","t":12.8,"v":57},{"s":"Wandelaar H01 (GB1)","t":13.4,"v":50},{"s":"Wandelaar H01 (GB1)","t":14.1,"v":67},{"s":"Wandelaar H01 (GB1)","t":14.7,"v":57},{"s":"Wandelaar H01 (GB1)","t":15.3,"v":63},{"s":"Wandelaar H01 (GB1)","t":15.9,"v":55},{"s":"Wandelaar H01 (GB1)","t":16.4,"v":65},{"s":"Wandelaar H01 (GB1)","t":16.9,"v":55},{"s":"Wandelaar H01 (GB1)","t":17.6,"v":63},{"s":"Wandelaar H01 (GB1)","t":18.1,"v":74},{"s":"Wandelaar H01 (GB1)","t":18.7,"v":83},{"s":"Wandelaar H01 (GB1)","t":19.4,"v":98},{"s":"Wandelaar H01 (GB1)","t":20,"v":89},{"s":"Wandelaar H01 (GB1)","t":20.6,"v":105},{"s":"Wandelaar H01 (GB1)","t":21,"v":89},{"s":"Wandelaar H01 (GB1)","t":21.5,"v":114},{"s":"Wandelaar H01 (GB1)","t":21.9,"v":96},{"s":"Wandelaar H01 (GB1)","t":22.5,"v":98},{"s":"Wandelaar H01 (GB1)","t":23,"v":110},{"s":"Wandelaar H01 (GB1)","t":23.5,"v":94},{"s":"Wandelaar H01 (GB1)","t":24,"v":88},{"s":"Wandelaar H01 (GB1)","t":24.4,"v":86},{"s":"Wandelaar H01 (GB1)","t":24.8,"v":93},{"s":"Wandelaar H01 (GB1)","t":25.4,"v":88},{"s":"Wandelaar H01 (GB1)","t":25.9,"v":146},{"s":"Wandelaar H01 (GB1)","t":26.3,"v":167},{"s":"Wandelaar H01 (GB1)","t":26.7,"v":161},{"s":"Wandelaar H01 (GB1)","t":27.1,"v":214},{"s":"Wandelaar H01 (GB1)","t":27.5,"v":171},{"s":"Wandelaar H01 (GB1)","t":28,"v":223},{"s":"Wandelaar H01 (GB1)","t":28.4,"v":207},{"s":"Wandelaar H01 (GB1)","t":28.7,"v":245},{"s":"Wandelaar H01 (GB1)","t":29,"v":226},{"s":"Wandelaar H01 (GB1)","t":29.35,"v":316},{"s":"Wandelaar H01 (GB1)","t":29.55,"v":281},{"s":"Wandelaar H01 (GB1)","t":29.75,"v":333},{"s":"Wandelaar H01 (GB1)","t":30,"v":292},{"s":"Wandelaar H01 (GB1)","t":30.3,"v":361},{"s":"Wandelaar H01 (GB1)","t":30.7,"v":399},{"s":"Wandelaar H01 (GB1)","t":31,"v":371},{"s":"Wandelaar H01 (GB1)","t":31.3,"v":409},{"s":"Wandelaar H01 (GB1)","t":31.6,"v":375},{"s":"Wandelaar H01 (GB1)","t":31.9,"v":389},{"s":"Wandelaar H01 (GB1)","t":32.2,"v":361},{"s":"Wandelaar H01 (GB1)","t":32.6,"v":427},{"s":"Wandelaar H01 (GB1)","t":32.85,"v":396},{"s":"Wandelaar H01 (GB1)","t":33.2,"v":458},{"s":"Wandelaar H01 (GB1)","t":33.5,"v":396},{"s":"Wandelaar H01 (GB1)","t":33.9,"v":444},{"s":"Wandelaar H01 (GB1)","t":34.25,"v":361},{"s":"Wandelaar H01 (GB1)","t":34.5,"v":451},{"s":"Wandelaar H01 (GB1)","t":34.8,"v":382},{"s":"Wandelaar H01 (GB1)","t":35.15,"v":368},{"s":"Wandelaar H01 (GB1)","t":35.5,"v":437},{"s":"Wandelaar H01 (GB1)","t":35.8,"v":375},{"s":"Wandelaar H01 (GB1)","t":36.1,"v":409},{"s":"Wandelaar H01 (GB1)","t":36.5,"v":354},{"s":"Wandelaar H01 (GB1)","t":36.9,"v":337},{"s":"Wandelaar H01 (GB1)","t":37.3,"v":306},{"s":"Wandelaar H01 (GB1)","t":37.7,"v":257},{"s":"Wandelaar H01 (GB1)","t":38,"v":340},{"s":"Wandelaar H01 (GB1)","t":38.4,"v":250},{"s":"Wandelaar H01 (GB1)","t":39,"v":223},{"s":"Wandelaar H01 (GB1)","t":39.5,"v":190},{"s":"Wandelaar H01 (GB1)","t":40,"v":229},{"s":"Wandelaar H01 (GB1)","t":40.4,"v":223},{"s":"Wandelaar H01 (GB1)","t":40.75,"v":190},{"s":"Wandelaar H01 (GB1)","t":41.2,"v":177},{"s":"Wandelaar H01 (GB1)","t":41.7,"v":164},{"s":"Wandelaar H01 (GB1)","t":42.1,"v":188},{"s":"Wandelaar H01 (GB1)","t":42.5,"v":171},{"s":"Wandelaar H01 (GB1)","t":43,"v":176},{"s":"Wandelaar H01 (GB1)","t":43.4,"v":169},{"s":"Wandelaar H01 (GB1)","t":43.7,"v":192},{"s":"Wandelaar H01 (GB1)","t":44.2,"v":169},{"s":"Wandelaar H01 (GB1)","t":44.5,"v":207},{"s":"Wandelaar H01 (GB1)","t":44.9,"v":174},{"s":"Wandelaar H01 (GB1)","t":45.2,"v":202},{"s":"Wandelaar H01 (GB1)","t":45.7,"v":183},{"s":"Wandelaar H01 (GB1)","t":46.3,"v":154},{"s":"Wandelaar H01 (GB1)","t":46.7,"v":141},{"s":"Wandelaar H01 (GB1)","t":47.2,"v":161},{"s":"Wandelaar H01 (GB1)","t":47.6,"v":131},{"s":"Wandelaar H01 (GB1)","t":48,"v":131},

    {"s":"ZW-Akkaert HM1 (DW1)","t":0,"v":45},{"s":"ZW-Akkaert HM1 (DW1)","t":1,"v":39},{"s":"ZW-Akkaert HM1 (DW1)","t":4.1,"v":34},{"s":"ZW-Akkaert HM1 (DW1)","t":6,"v":32},{"s":"ZW-Akkaert HM1 (DW1)","t":7.4,"v":31},{"s":"ZW-Akkaert HM1 (DW1)","t":8.6,"v":41},{"s":"ZW-Akkaert HM1 (DW1)","t":10.1,"v":43},{"s":"ZW-Akkaert HM1 (DW1)","t":11.6,"v":48},{"s":"ZW-Akkaert HM1 (DW1)","t":13.2,"v":62},{"s":"ZW-Akkaert HM1 (DW1)","t":13.8,"v":63},{"s":"ZW-Akkaert HM1 (DW1)","t":15.3,"v":72},{"s":"ZW-Akkaert HM1 (DW1)","t":16.3,"v":81},{"s":"ZW-Akkaert HM1 (DW1)","t":17.1,"v":74},{"s":"ZW-Akkaert HM1 (DW1)","t":18,"v":78},{"s":"ZW-Akkaert HM1 (DW1)","t":18.9,"v":95},{"s":"ZW-Akkaert HM1 (DW1)","t":19.8,"v":100},{"s":"ZW-Akkaert HM1 (DW1)","t":21.3,"v":102},{"s":"ZW-Akkaert HM1 (DW1)","t":22.8,"v":100},{"s":"ZW-Akkaert HM1 (DW1)","t":23.7,"v":110},{"s":"ZW-Akkaert HM1 (DW1)","t":24.5,"v":122},{"s":"ZW-Akkaert HM1 (DW1)","t":25.4,"v":119},{"s":"ZW-Akkaert HM1 (DW1)","t":25.9,"v":150},{"s":"ZW-Akkaert HM1 (DW1)","t":26.6,"v":181},{"s":"ZW-Akkaert HM1 (DW1)","t":27.2,"v":181},{"s":"ZW-Akkaert HM1 (DW1)","t":28.1,"v":226},{"s":"ZW-Akkaert HM1 (DW1)","t":28.6,"v":290},{"s":"ZW-Akkaert HM1 (DW1)","t":29.2,"v":354},{"s":"ZW-Akkaert HM1 (DW1)","t":29.6,"v":373},{"s":"ZW-Akkaert HM1 (DW1)","t":30.3,"v":363},{"s":"ZW-Akkaert HM1 (DW1)","t":31.3,"v":389},{"s":"ZW-Akkaert HM1 (DW1)","t":32.1,"v":371},{"s":"ZW-Akkaert HM1 (DW1)","t":33,"v":394},{"s":"ZW-Akkaert HM1 (DW1)","t":33.6,"v":382},{"s":"ZW-Akkaert HM1 (DW1)","t":34.3,"v":406},{"s":"ZW-Akkaert HM1 (DW1)","t":34.9,"v":420},{"s":"ZW-Akkaert HM1 (DW1)","t":35.5,"v":402},{"s":"ZW-Akkaert HM1 (DW1)","t":36,"v":411},{"s":"ZW-Akkaert HM1 (DW1)","t":36.45,"v":337},{"s":"ZW-Akkaert HM1 (DW1)","t":36.9,"v":362},{"s":"ZW-Akkaert HM1 (DW1)","t":37.5,"v":316},{"s":"ZW-Akkaert HM1 (DW1)","t":38.4,"v":285},{"s":"ZW-Akkaert HM1 (DW1)","t":39,"v":270},{"s":"ZW-Akkaert HM1 (DW1)","t":39.9,"v":232},{"s":"ZW-Akkaert HM1 (DW1)","t":40.4,"v":244},{"s":"ZW-Akkaert HM1 (DW1)","t":41.4,"v":209},{"s":"ZW-Akkaert HM1 (DW1)","t":41.9,"v":219},{"s":"ZW-Akkaert HM1 (DW1)","t":42.5,"v":192},{"s":"ZW-Akkaert HM1 (DW1)","t":43.2,"v":198},{"s":"ZW-Akkaert HM1 (DW1)","t":44.3,"v":197},{"s":"ZW-Akkaert HM1 (DW1)","t":45.5,"v":185},{"s":"ZW-Akkaert HM1 (DW1)","t":46.4,"v":179},{"s":"ZW-Akkaert HM1 (DW1)","t":47,"v":167},{"s":"ZW-Akkaert HM1 (DW1)","t":48,"v":177},

    {"s":"Trapegeer H01 (GB1)","t":0,"v":29},{"s":"Trapegeer H01 (GB1)","t":0.8,"v":24},{"s":"Trapegeer H01 (GB1)","t":1.2,"v":29},{"s":"Trapegeer H01 (GB1)","t":1.8,"v":26},{"s":"Trapegeer H01 (GB1)","t":2.6,"v":21},{"s":"Trapegeer H01 (GB1)","t":3.5,"v":17},{"s":"Trapegeer H01 (GB1)","t":4.1,"v":21},{"s":"Trapegeer H01 (GB1)","t":4.9,"v":19},{"s":"Trapegeer H01 (GB1)","t":5.6,"v":17},{"s":"Trapegeer H01 (GB1)","t":6,"v":16},{"s":"Trapegeer H01 (GB1)","t":6.8,"v":19},{"s":"Trapegeer H01 (GB1)","t":7.6,"v":22},{"s":"Trapegeer H01 (GB1)","t":8.3,"v":27},{"s":"Trapegeer H01 (GB1)","t":8.9,"v":22},{"s":"Trapegeer H01 (GB1)","t":9.5,"v":26},{"s":"Trapegeer H01 (GB1)","t":10.1,"v":29},{"s":"Trapegeer H01 (GB1)","t":10.9,"v":32},{"s":"Trapegeer H01 (GB1)","t":11.6,"v":34},{"s":"Trapegeer H01 (GB1)","t":12.1,"v":31},{"s":"Trapegeer H01 (GB1)","t":12.5,"v":41},{"s":"Trapegeer H01 (GB1)","t":12.8,"v":30},{"s":"Trapegeer H01 (GB1)","t":13.3,"v":37},{"s":"Trapegeer H01 (GB1)","t":13.7,"v":34},{"s":"Trapegeer H01 (GB1)","t":14.1,"v":37},{"s":"Trapegeer H01 (GB1)","t":14.5,"v":45},{"s":"Trapegeer H01 (GB1)","t":14.8,"v":37},{"s":"Trapegeer H01 (GB1)","t":15.3,"v":37},{"s":"Trapegeer H01 (GB1)","t":16,"v":39},{"s":"Trapegeer H01 (GB1)","t":16.8,"v":43},{"s":"Trapegeer H01 (GB1)","t":17.6,"v":48},{"s":"Trapegeer H01 (GB1)","t":18.3,"v":50},{"s":"Trapegeer H01 (GB1)","t":18.9,"v":55},{"s":"Trapegeer H01 (GB1)","t":19.5,"v":55},{"s":"Trapegeer H01 (GB1)","t":20.1,"v":63},{"s":"Trapegeer H01 (GB1)","t":20.6,"v":68},{"s":"Trapegeer H01 (GB1)","t":21,"v":79},{"s":"Trapegeer H01 (GB1)","t":21.3,"v":65},{"s":"Trapegeer H01 (GB1)","t":21.6,"v":74},{"s":"Trapegeer H01 (GB1)","t":21.9,"v":65},{"s":"Trapegeer H01 (GB1)","t":22.2,"v":73},{"s":"Trapegeer H01 (GB1)","t":22.7,"v":67},{"s":"Trapegeer H01 (GB1)","t":23.1,"v":73},{"s":"Trapegeer H01 (GB1)","t":23.6,"v":62},{"s":"Trapegeer H01 (GB1)","t":24.2,"v":65},{"s":"Trapegeer H01 (GB1)","t":24.8,"v":60},{"s":"Trapegeer H01 (GB1)","t":25.2,"v":63},{"s":"Trapegeer H01 (GB1)","t":25.5,"v":94},{"s":"Trapegeer H01 (GB1)","t":25.9,"v":78},{"s":"Trapegeer H01 (GB1)","t":26.2,"v":91},{"s":"Trapegeer H01 (GB1)","t":26.5,"v":94},{"s":"Trapegeer H01 (GB1)","t":26.8,"v":140},{"s":"Trapegeer H01 (GB1)","t":27.2,"v":128},{"s":"Trapegeer H01 (GB1)","t":27.7,"v":138},{"s":"Trapegeer H01 (GB1)","t":28,"v":141},{"s":"Trapegeer H01 (GB1)","t":28.6,"v":181},{"s":"Trapegeer H01 (GB1)","t":28.9,"v":174},{"s":"Trapegeer H01 (GB1)","t":29.5,"v":229},{"s":"Trapegeer H01 (GB1)","t":29.8,"v":235},{"s":"Trapegeer H01 (GB1)","t":30.1,"v":260},{"s":"Trapegeer H01 (GB1)","t":30.5,"v":285},{"s":"Trapegeer H01 (GB1)","t":30.75,"v":257},{"s":"Trapegeer H01 (GB1)","t":31,"v":283},{"s":"Trapegeer H01 (GB1)","t":31.3,"v":266},{"s":"Trapegeer H01 (GB1)","t":31.8,"v":316},{"s":"Trapegeer H01 (GB1)","t":32.2,"v":306},{"s":"Trapegeer H01 (GB1)","t":32.8,"v":275},{"s":"Trapegeer H01 (GB1)","t":33.3,"v":271},{"s":"Trapegeer H01 (GB1)","t":33.7,"v":209},{"s":"Trapegeer H01 (GB1)","t":34,"v":240},{"s":"Trapegeer H01 (GB1)","t":34.3,"v":214},{"s":"Trapegeer H01 (GB1)","t":34.9,"v":250},{"s":"Trapegeer H01 (GB1)","t":35.3,"v":213},{"s":"Trapegeer H01 (GB1)","t":35.7,"v":228},{"s":"Trapegeer H01 (GB1)","t":36.2,"v":197},{"s":"Trapegeer H01 (GB1)","t":36.5,"v":166},{"s":"Trapegeer H01 (GB1)","t":36.9,"v":215},{"s":"Trapegeer H01 (GB1)","t":37.3,"v":181},{"s":"Trapegeer H01 (GB1)","t":37.7,"v":205},{"s":"Trapegeer H01 (GB1)","t":38,"v":161},{"s":"Trapegeer H01 (GB1)","t":38.6,"v":162},{"s":"Trapegeer H01 (GB1)","t":38.9,"v":150},{"s":"Trapegeer H01 (GB1)","t":39.3,"v":119},{"s":"Trapegeer H01 (GB1)","t":39.6,"v":124},{"s":"Trapegeer H01 (GB1)","t":40.2,"v":119},{"s":"Trapegeer H01 (GB1)","t":40.7,"v":99},{"s":"Trapegeer H01 (GB1)","t":41.2,"v":109},{"s":"Trapegeer H01 (GB1)","t":41.5,"v":102},{"s":"Trapegeer H01 (GB1)","t":41.8,"v":112},{"s":"Trapegeer H01 (GB1)","t":42.1,"v":102},{"s":"Trapegeer H01 (GB1)","t":42.6,"v":114},{"s":"Trapegeer H01 (GB1)","t":43,"v":109},{"s":"Trapegeer H01 (GB1)","t":43.6,"v":122},{"s":"Trapegeer H01 (GB1)","t":43.9,"v":133},{"s":"Trapegeer H01 (GB1)","t":44.4,"v":109},{"s":"Trapegeer H01 (GB1)","t":44.8,"v":105},{"s":"Trapegeer H01 (GB1)","t":45.2,"v":84},{"s":"Trapegeer H01 (GB1)","t":45.8,"v":94},{"s":"Trapegeer H01 (GB1)","t":46.3,"v":83},{"s":"Trapegeer H01 (GB1)","t":46.9,"v":84},{"s":"Trapegeer H01 (GB1)","t":47.3,"v":78},{"s":"Trapegeer H01 (GB1)","t":47.6,"v":80},{"s":"Trapegeer H01 (GB1)","t":47.9,"v":68},{"s":"Trapegeer H01 (GB1)","t":48,"v":74}
  ]},
  "mark": {"type": "line", "interpolate": "monotone", "strokeWidth": 2.8, "clip": true},
  "encoding": {
    "x": {
      "field": "t", "type": "quantitative",
      "scale": {"domain": [0, 48], "nice": false, "zero": false},
      "axis": {
        "values": [0, 6, 12, 18, 24, 30, 36, 42, 48],
        "labelExpr": "(24 + floor(datum.value / 24)) + ' ' + ((datum.value % 24) < 10 ? '0' : '') + (datum.value % 24)",
        "title": "Datum en uur in UTC",
        "labelFontSize": 20.5, "labelPadding": 14, "labelFlush": false,
        "titleFontSize": 21, "titleFontWeight": "bold", "titlePadding": 12,
        "titleX": 493, "titleAnchor": null, "titleAlign": "center"
      }
    },
    "y": {
      "field": "v", "type": "quantitative",
      "scale": {"domain": [0, 700], "nice": false},
      "axis": {
        "values": [0, 100, 200, 300, 400, 500, 600, 700],
        "title": "Golfhoogte in cm",
        "labelFontSize": 24.5, "labelPadding": 12,
        "titleFontSize": 22, "titleFontWeight": "bold", "titlePadding": 11,
        "titleY": 325, "titleAlign": "center"
      }
    },
    "color": {
      "field": "s", "type": "nominal",
      "scale": {
        "domain": ["Meetpaal 7 H10 (RW1)", "Scheur Wielingen H01 (GB1)", "Bol van HeistHM1 (DW1)", "Westhinder HM1 (DW1)", "Kwintebank HM1 (DW1)", "Oostende H01 (GB1)", "Wandelaar H01 (GB1)", "ZW-Akkaert HM1 (DW1)", "Trapegeer H01 (GB1)"],
        "range": ["#ff0000", "#ff0000", "#0000ff", "#00ff00", "#008000", "#993300", "#ff9900", "#ffff00", "#99ccff"]
      },
      "legend": {
        "orient": "none", "legendX": 112, "legendY": 32,
        "title": null,
        "symbolType": "stroke", "symbolSize": 2304, "symbolStrokeWidth": 3,
        "labelFontSize": 21.5, "labelFont": "Liberation Sans", "labelColor": "black", "labelOffset": 6, "labelLimit": 400,
        "rowPadding": 9.4,
        "padding": 4, "strokeColor": "black", "fillColor": "white", "cornerRadius": 0
      }
    }
  },
  "config": {
    "font": "Liberation Sans",
    "view": {"stroke": "#808080", "strokeWidth": 2},
    "axis": {
      "labelFont": "Liberation Sans", "titleFont": "Liberation Sans",
      "labelColor": "black", "titleColor": "black",
      "domainColor": "#404040", "domainWidth": 2,
      "tickColor": "#404040", "tickSize": 7, "tickWidth": 1.5,
      "grid": true, "gridColor": "black", "gridDash": [9, 6], "gridWidth": 1, "gridOpacity": 1
    }
  }
}
